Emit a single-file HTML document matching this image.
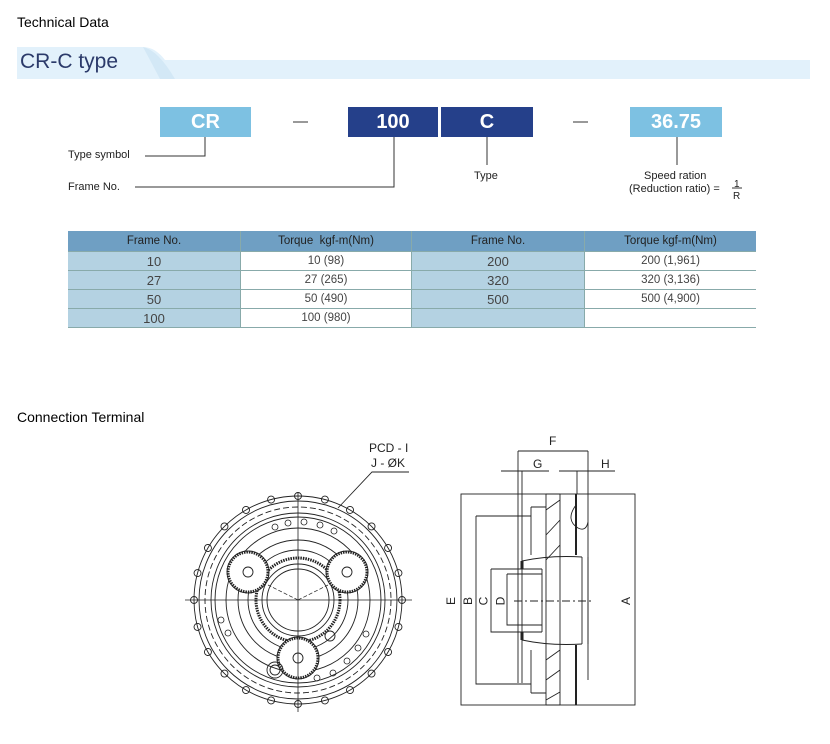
<!DOCTYPE html>
<html><head><meta charset="utf-8"><style>
body{margin:0;width:830px;height:744px;background:#fff;position:relative;font-family:"Liberation Sans",sans-serif;overflow:hidden}
.a{position:absolute;white-space:nowrap}
.box{position:absolute;height:30px;top:107px;color:#fff;font-size:20px;font-weight:bold;text-align:center;line-height:30px}
table{position:absolute;left:68px;top:231px;border-collapse:collapse;font-size:11.5px;color:#444}
td{height:18px;padding:0;text-align:center;border-right:1px solid #8aa;border-bottom:1px solid #8aa}
tr.h td{background:#6f9fc3;height:20px;color:#222}
td.f{background:#b4d2e2;font-size:13px}
</style></head><body>
<div class="a" style="left:17px;top:14px;font-size:14px;color:#000">Technical Data</div>
<svg class="a" style="left:0;top:0" width="830" height="90"><path d="M17 47 H143 Q155 47 165 60 H810 V79 H17Z" fill="#e2f1fb"/><path d="M143 47 Q158 50 175 79 H160 Q150 60 143 47" fill="#d3e8f6"/></svg>
<div class="a" style="left:20px;top:50px;font-size:21px;color:#2b3a6a">CR-C type</div>
<div class="box" style="left:160px;width:91px;background:#7dc1e2">CR</div>
<div class="box" style="left:348px;width:90px;background:#25408a">100</div>
<div class="box" style="left:441px;width:92px;background:#25408a">C</div>
<div class="box" style="left:630px;width:92px;background:#7dc1e2">36.75</div>
<svg class="a" style="left:0;top:0" width="830" height="210" stroke="#333" stroke-width="1" fill="none">
<path d="M293 122H308M573 122H588"/>
<path d="M205 137V156H145M394 137V187H135M487 137V165M677 137V165"/>
<path d="M732 188H742" />
</svg>
<div class="a" style="left:68px;top:149px;font-size:11px;color:#222">Type symbol</div>
<div class="a" style="left:68px;top:181px;font-size:11px;color:#222">Frame No.</div>
<div class="a" style="left:474px;top:170px;font-size:11px;color:#222">Type</div>
<div class="a" style="left:644px;top:170px;font-size:11px;color:#222">Speed ration</div>
<div class="a" style="left:629px;top:183px;font-size:11px;color:#222">(Reduction ratio) =</div>
<div class="a" style="left:734px;top:179px;font-size:10px;color:#222">1</div>
<div class="a" style="left:733px;top:191px;font-size:10px;color:#222">R</div>
<table>
<tr class="h"><td style="width:172px">Frame No.</td><td style="width:170px">Torque &nbsp;kgf-m(Nm)</td><td style="width:172px">Frame No.</td><td style="width:171px;border-right:none">Torque kgf-m(Nm)</td></tr>
<tr><td class="f">10</td><td>10 (98)</td><td class="f">200</td><td style="border-right:none">200 (1,961)</td></tr>
<tr><td class="f">27</td><td>27 (265)</td><td class="f">320</td><td style="border-right:none">320 (3,136)</td></tr>
<tr><td class="f">50</td><td>50 (490)</td><td class="f">500</td><td style="border-right:none">500 (4,900)</td></tr>
<tr><td class="f">100</td><td>100 (980)</td><td class="f"></td><td style="border-right:none"></td></tr>
</table>
<div class="a" style="left:17px;top:409px;font-size:14px;color:#000">Connection Terminal</div>
<svg class="a" style="left:0;top:0" width="830" height="744" stroke="#222" stroke-width="0.9" fill="none">
<g>
<circle cx="298" cy="600" r="104"/><circle cx="298" cy="600" r="99"/><circle cx="298" cy="600" r="93" stroke-dasharray="6 3"/>
<circle cx="298" cy="600" r="87"/><circle cx="298" cy="600" r="83"/><circle cx="298" cy="600" r="72"/><circle cx="298" cy="600" r="60"/>
<circle cx="298" cy="600" r="50"/><circle cx="298" cy="600" r="42" stroke-width="3" stroke-dasharray="1.5 1"/><circle cx="298" cy="600" r="36"/><circle cx="298" cy="600" r="31"/>
<g fill="#fff"><circle cx="248" cy="572" r="21"/><circle cx="347" cy="572" r="21"/><circle cx="298" cy="658" r="21"/></g>
<g stroke-width="3" stroke-dasharray="1.5 1"><circle cx="248" cy="572" r="20"/><circle cx="347" cy="572" r="20"/><circle cx="298" cy="658" r="20"/></g>
<circle cx="248" cy="572" r="5"/><circle cx="347" cy="572" r="5"/><circle cx="298" cy="658" r="5"/>
<circle cx="275" cy="670" r="8"/><circle cx="275" cy="670" r="5"/><circle cx="330" cy="636" r="5"/>
<g id="h"><circle cx="298" cy="496" r="3.5"/></g>
<g>
<use href="#h" transform="rotate(30 298 600)"/><use href="#h" transform="rotate(60 298 600)"/><use href="#h" transform="rotate(90 298 600)"/><use href="#h" transform="rotate(120 298 600)"/><use href="#h" transform="rotate(150 298 600)"/><use href="#h" transform="rotate(180 298 600)"/><use href="#h" transform="rotate(210 298 600)"/><use href="#h" transform="rotate(240 298 600)"/><use href="#h" transform="rotate(270 298 600)"/><use href="#h" transform="rotate(300 298 600)"/><use href="#h" transform="rotate(330 298 600)"/>
<use href="#h" transform="rotate(15 298 600)"/><use href="#h" transform="rotate(45 298 600)"/><use href="#h" transform="rotate(75 298 600)"/><use href="#h" transform="rotate(105 298 600)"/><use href="#h" transform="rotate(135 298 600)"/><use href="#h" transform="rotate(165 298 600)"/><use href="#h" transform="rotate(195 298 600)"/><use href="#h" transform="rotate(225 298 600)"/><use href="#h" transform="rotate(255 298 600)"/><use href="#h" transform="rotate(285 298 600)"/><use href="#h" transform="rotate(315 298 600)"/><use href="#h" transform="rotate(345 298 600)"/>
</g>
<g stroke-width="0.8"><circle cx="275" cy="527" r="3"/><circle cx="288" cy="523" r="3"/><circle cx="304" cy="522" r="3"/><circle cx="320" cy="525" r="3"/><circle cx="334" cy="531" r="3"/><circle cx="221" cy="620" r="3"/><circle cx="228" cy="633" r="3"/><circle cx="366" cy="634" r="3"/><circle cx="358" cy="648" r="3"/><circle cx="347" cy="661" r="3"/><circle cx="333" cy="673" r="3"/><circle cx="317" cy="678" r="3"/></g>
<path d="M185 600H412M298 492V712" stroke-width="0.8"/>
<path d="M298 600L268 585M298 600L328 585" stroke-dasharray="4 2" stroke-width="0.7"/>
<path d="M338 508L372 472H409"/>
</g>
<g>
<rect x="461" y="494" width="174" height="211"/>
<path d="M518 451H588M518 451V683M522 471V683M588 451V680M501 471H549M559 471H615M577 471V494"/>
<path d="M476 516H531M476 516V684H531M531 507V555M531 650V693M531 507H546M531 693H546"/>
<path d="M546 494V705M560 494V705M546 494H560M546 705H560M546 510L560 500M546 535L560 520M546 560L560 545M546 660L560 650M546 680L560 670M546 700L560 692"/>
<path d="M576 494V555M576 645V705" stroke-width="2"/>
<path d="M576 505Q565 520 578 528Q586 532 588 522"/>
<path d="M582 557V644M588 557V644"/>
<path d="M522 561Q550 555 582 557M522 640Q550 646 582 644"/>
<path d="M491 569H542M491 569V632H542M507 574H542M507 574V625H542M542 569V632"/>
<path d="M522 561V569M522 632V640" stroke-width="3"/>
<path d="M514 601H594" stroke-dasharray="8 3 2 3"/>
</g>
</svg>
<div class="a" style="left:369px;top:441px;font-size:12px;color:#222">PCD - I</div>
<div class="a" style="left:371px;top:456px;font-size:12px;color:#222">J - ØK</div>
<div class="a" style="left:549px;top:434px;font-size:12px;color:#222">F</div>
<div class="a" style="left:533px;top:457px;font-size:12px;color:#222">G</div>
<div class="a" style="left:601px;top:457px;font-size:12px;color:#222">H</div>
<div class="a" style="left:447px;top:594px;font-size:12px;color:#222;transform:rotate(-90deg)">E</div>
<div class="a" style="left:464px;top:594px;font-size:12px;color:#222;transform:rotate(-90deg)">B</div>
<div class="a" style="left:479px;top:594px;font-size:12px;color:#222;transform:rotate(-90deg)">C</div>
<div class="a" style="left:496px;top:594px;font-size:12px;color:#222;transform:rotate(-90deg)">D</div>
<div class="a" style="left:622px;top:594px;font-size:12px;color:#222;transform:rotate(-90deg)">A</div>
</body></html>
